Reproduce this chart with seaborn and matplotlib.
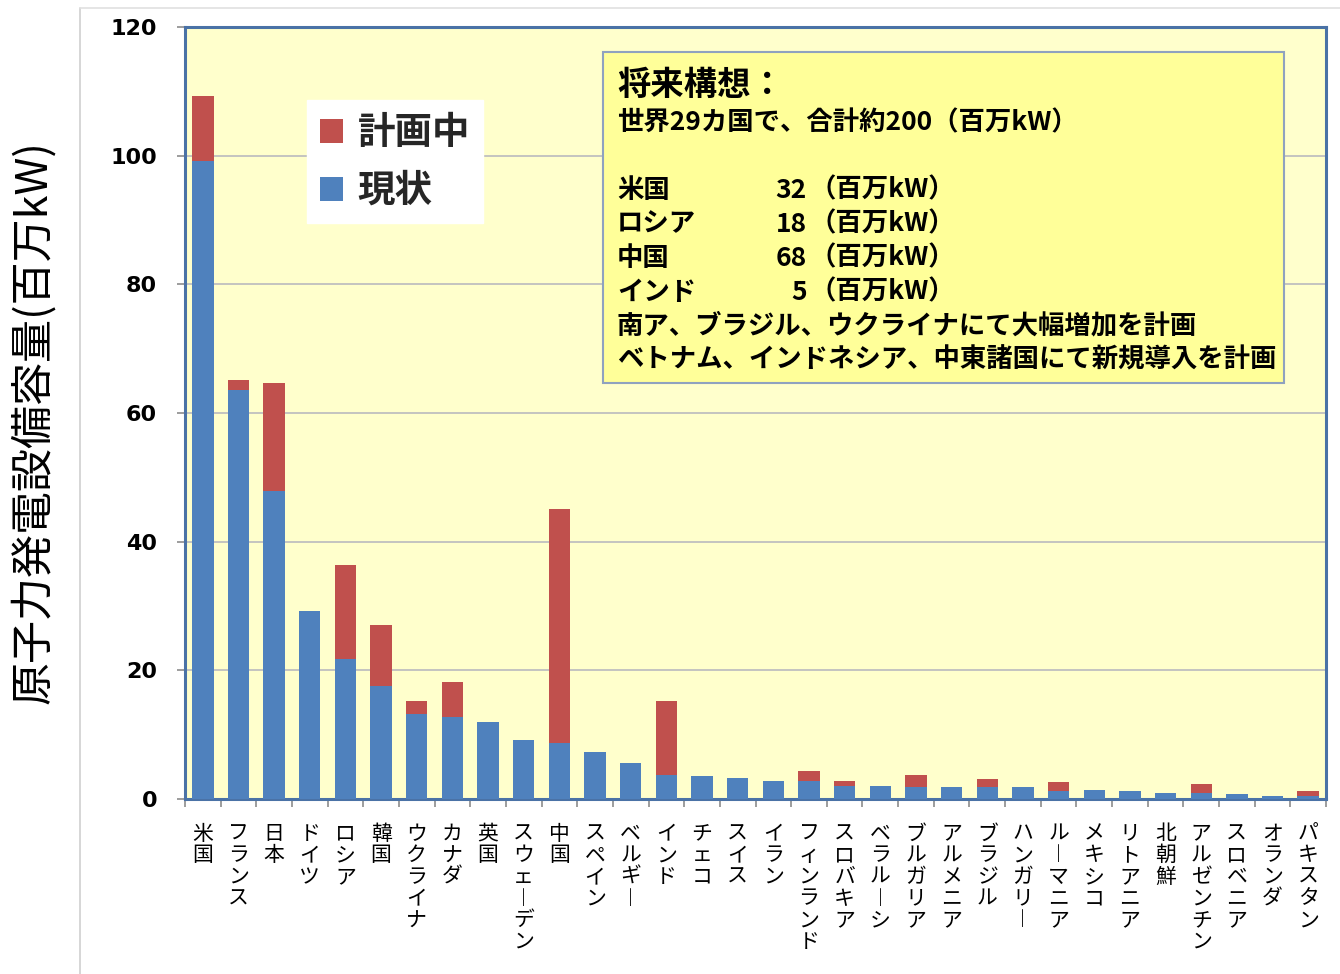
import matplotlib
matplotlib.use("Agg")
import matplotlib.pyplot as plt
import numpy as np
import pandas as pd
import seaborn as sns
from matplotlib.patches import Patch, Rectangle
from matplotlib.lines import Line2D

# Nuclear power generating capacity by country (million kW)
countries = ["米国", "フランス", "日本", "ドイツ", "ロシア", "韓国", "ウクライナ", "カナダ",
             "英国", "スウェーデン", "中国", "スペイン", "ベルギー", "インド", "チェコ", "スイス",
             "イラン", "フィンランド", "スロバキア", "ベラルーシ", "ブルガリア", "アルメニア",
             "ブラジル", "ハンガリー", "ルーマニア", "メキシコ", "リトアニア", "北朝鮮",
             "アルゼンチン", "スロベニア", "オランダ", "パキスタン"]
current = [99.1, 63.5, 47.8, 29.3, 21.8, 17.6, 13.2, 12.7, 11.9, 9.1, 8.7, 7.3, 5.6, 3.7,
           3.5, 3.3, 2.8, 2.8, 2.0, 2.0, 1.8, 1.8, 1.8, 1.8, 1.3, 1.35, 1.3, 1.0, 0.9,
           0.7, 0.5, 0.5]
planned = [10.2, 1.7, 16.9, 0.0, 14.5, 9.5, 2.05, 5.5, 0.0, 0.0, 36.4, 0.0, 0.0, 11.5,
           0.0, 0.0, 0.0, 1.6, 0.8, 0.0, 2.0, 0.0, 1.3, 0.0, 1.3, 0.0, 0.0, 0.0, 1.4,
           0.0, 0.0, 0.8]

legend_labels = ["計画中", "現状"]
y_ticks = [0, 20, 40, 60, 80, 100, 120]
y_label = "原子力発電設備容量(百万kW)"

note_title = "将来構想："
note_total = "世界29カ国で、合計約200（百万kW）"
note_countries = ["米国", "ロシア", "中国", "インド"]
note_values = [32, 18, 68, 5]
note_unit = "（百万kW）"
note_lines = ["南ア、ブラジル、ウクライナにて大幅増加を計画",
              "ベトナム、インドネシア、中東諸国にて新規導入を計画"]

BLUE = "#4F81BD"
RED = "#C0504D"

df = pd.DataFrame({"国": countries, "現状": current, "計画中": planned})
df["合計"] = df["現状"] + df["計画中"]

sns.set_theme(style="white")
plt.rcParams["font.family"] = ["Noto Sans CJK JP", "DejaVu Sans"]

W, H = 1340, 974
fig = plt.figure(figsize=(W / 100, H / 100), dpi=100)
fig.patch.set_facecolor("white")


def fx(px):
    return px / W


def fy(py):
    return 1 - py / H


ax = fig.add_axes([fx(185), fy(799), fx(1326) - fx(185), fy(27) - fy(799)])
ax.set_facecolor("#FFFFCC")

# stacked bars: total (red) underneath, current (blue) on top
sns.barplot(data=df, x="国", y="合計", color=RED, saturation=1, width=0.6,
            ax=ax, zorder=3, linewidth=0)
sns.barplot(data=df, x="国", y="現状", color=BLUE, saturation=1, width=0.6,
            ax=ax, zorder=3, linewidth=0)

ax.set_ylim(0, 120)
ax.set_xlim(-0.5, len(countries) - 0.5)
ax.set_xlabel("")
ax.set_ylabel("")
ax.set_yticks(y_ticks)
ax.set_yticklabels([str(v) for v in y_ticks], fontsize=16, fontweight="bold",
                   family="DejaVu Sans", color="black")
ax.yaxis.grid(True, color="#BFBFBF", linewidth=1.3, zorder=0)
ax.xaxis.grid(False)
ax.set_axisbelow(True)

ax.tick_params(axis="y", which="major", direction="out", length=6, width=1.2,
               color="#8C8C8C", pad=14, left=True)

ax.set_xticks(range(len(countries)))
ax.set_xticklabels(["\n".join(c.replace("ー", "︱")) for c in countries],
                   fontsize=15, linespacing=0.98, va="top", ha="center", color="black")
ax.tick_params(axis="x", which="major", length=0, pad=17)
ax.set_xticks(np.arange(-0.5, len(countries), 1.0), minor=True)
ax.tick_params(axis="x", which="minor", direction="out", length=6, width=1.2,
               color="#8C8C8C", bottom=True)

for side in ["top", "right", "left", "bottom"]:
    ax.spines[side].set_visible(True)
    ax.spines[side].set_color("#4A72A6")
    ax.spines[side].set_linewidth(2.2)

handles = [Patch(facecolor=RED, edgecolor="none"), Patch(facecolor=BLUE, edgecolor="none")]
leg = ax.legend(handles, legend_labels, loc="upper left",
                bbox_to_anchor=(fx(307), fy(100)), bbox_transform=fig.transFigure,
                frameon=True, fancybox=False, facecolor="white", edgecolor="white",
                framealpha=1, handlelength=0.6, handleheight=0.6, handletextpad=0.4,
                labelspacing=0.5, borderpad=0.35, borderaxespad=0,
                prop={"family": ["Noto Sans CJK JP"], "weight": "bold", "size": 27})
leg.set_zorder(10)

# outline of the chart area
fig.add_artist(Line2D([fx(80), fx(80)], [0, fy(8)], transform=fig.transFigure,
                      color="#D0D0D0", lw=1.2))
fig.add_artist(Line2D([fx(80), 1], [fy(8), fy(8)], transform=fig.transFigure,
                      color="#E0E0E0", lw=1.2))

# y-axis title
fig.text(fx(34), fy(422), y_label, rotation=90, ha="center", va="center",
         fontsize=31, color="black")

# note box
fig.add_artist(Rectangle((fx(603), fy(383)), fx(1284) - fx(603), fy(52) - fy(383),
                         transform=fig.transFigure, facecolor="#FFFF99",
                         edgecolor="#8FA2BF", lw=1.5, zorder=5))
txt_kw = dict(fontweight="bold", color="black", va="center", zorder=6)
fig.text(fx(617), fy(85), note_title, fontsize=24, ha="left", **txt_kw)
fig.text(fx(617), fy(123), note_total, fontsize=19, ha="left", **txt_kw)
row_y = [190, 224, 258, 292]
for name, val, yy in zip(note_countries, note_values, row_y):
    fig.text(fx(617), fy(yy), name, fontsize=19, ha="left", **txt_kw)
    fig.text(fx(807), fy(yy), str(val), fontsize=19, ha="right", **txt_kw)
    fig.text(fx(809), fy(yy), note_unit, fontsize=19, ha="left", **txt_kw)
for line, yy in zip(note_lines, [326, 360]):
    fig.text(fx(617), fy(yy), line, fontsize=19, ha="left", **txt_kw)

fig.savefig("out.png", dpi=100)
